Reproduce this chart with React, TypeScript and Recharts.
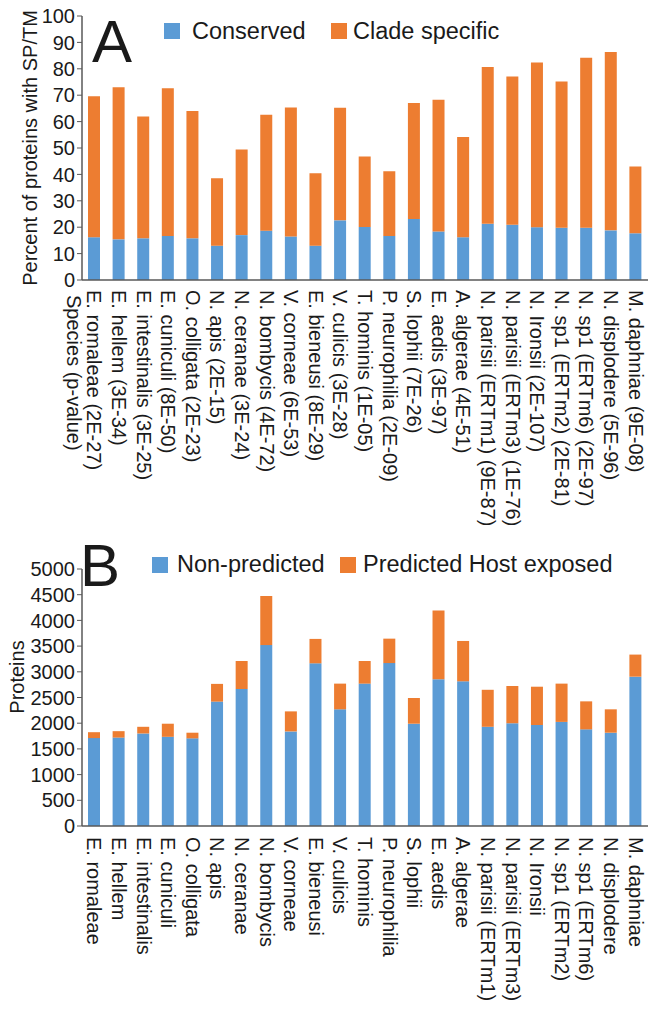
import { Bar, BarChart, XAxis, YAxis } from "recharts";

const BLUE = "#5B9BD5";
const ORANGE = "#ED7D31";
const AXIS = "#595959";
const INK = "#1a1a1a";
const FONT = "'Liberation Sans', Arial, sans-serif";

const species = [
  "E. romaleae", "E. hellem", "E. intestinalis", "E. cuniculi", "O. colligata",
  "N. apis", "N. ceranae", "N. bombycis", "V. corneae", "E. bieneusi",
  "V. culicis", "T. hominis", "P. neurophilia", "S. lophii", "E. aedis",
  "A. algerae", "N. parisii (ERTm1)", "N. parisii (ERTm3)", "N. Ironsii",
  "N. sp1 (ERTm2)", "N. sp1 (ERTm6)", "N. displodere", "M. daphniae",
];
const pValues = [
  "2E-27", "3E-34", "3E-25", "8E-50", "2E-23", "2E-15", "3E-24", "4E-72",
  "6E-53", "8E-29", "3E-28", "1E-05", "2E-09", "7E-26", "3E-97", "4E-51",
  "9E-87", "1E-76", "2E-107", "2E-81", "2E-97", "5E-96", "9E-08",
];

// panel A, percent of proteins with SP/TM
const conserved = [
  16.2, 15.4, 15.8, 16.7, 15.8, 13.0, 17.0, 18.7, 16.5, 13.0, 22.6, 20.1,
  16.7, 23.1, 18.4, 16.2, 21.3, 20.9, 20.0, 19.8, 19.8, 18.8, 17.7,
];
const cladeSpecific = [
  53.4, 57.6, 46.1, 55.9, 48.2, 25.5, 32.4, 43.9, 48.8, 27.4, 42.6, 26.7,
  24.5, 43.9, 49.9, 38.0, 59.4, 56.2, 62.4, 55.4, 64.4, 67.6, 25.3,
];

// panel B, protein counts
const nonPredicted = [
  1710, 1720, 1800, 1735, 1705, 2420, 2665, 3520, 1840, 3165, 2270, 2770,
  3170, 1990, 2855, 2815, 1930, 2000, 1965, 2025, 1880, 1815, 2905,
];
const hostExposed = [
  115, 125, 130, 255, 110, 345, 545, 955, 390, 475, 500, 440, 475, 500, 1340,
  785, 720, 725, 745, 745, 545, 455, 430,
];

const percentTicks = [0, 10, 20, 30, 40, 50, 60, 70, 80, 90, 100];
const proteinTicks = [0, 500, 1000, 1500, 2000, 2500, 3000, 3500, 4000, 4500, 5000];

const dataA = species.map((s, i) => ({
  name: `${s} (${pValues[i]})`,
  conserved: conserved[i],
  clade: cladeSpecific[i],
}));
const dataB = species.map((s, i) => ({
  name: s,
  nonPredicted: nonPredicted[i],
  exposed: hostExposed[i],
}));

const SpeciesTick = (props: any) => {
  const { x, y, payload } = props;
  return (
    <text
      x={x}
      y={y}
      dy="0.35em"
      transform={`rotate(90, ${x}, ${y})`}
      textAnchor="start"
      fontSize={20}
      fontFamily={FONT}
      fill={INK}
    >
      {payload.value}
    </text>
  );
};

const titleText = (text: string, x: number, y: number, deg: number, anchor: string) => () => (
  <text
    x={x}
    y={y}
    transform={`rotate(${deg}, ${x}, ${y})`}
    textAnchor={anchor}
    fontSize={20}
    fontFamily={FONT}
    fill={INK}
  >
    {text}
  </text>
);

const yTick = { fill: INK, fontSize: 20, fontFamily: FONT };

const Swatch = ({ left, top, color }: { left: number; top: number; color: string }) => (
  <div style={{ position: "absolute", left, top, width: 16, height: 16, background: color }} />
);

const Caption = ({ left, top, text, size }: { left: number; top: number; text: string; size: number }) => (
  <span
    style={{
      position: "absolute",
      left,
      top,
      fontSize: size,
      lineHeight: `${size}px`,
      fontFamily: FONT,
      color: INK,
      whiteSpace: "nowrap",
    }}
  >
    {text}
  </span>
);

export default function App() {
  return (
    <div style={{ position: "absolute", left: 0, top: 0, width: 649, height: 1010, background: "#fff" }}>
      <div style={{ position: "absolute", left: 0, top: 0 }}>
        <BarChart width={649} height={525} data={dataA} margin={{ top: 16, right: 1, bottom: 0, left: 0 }}>
          <XAxis
            dataKey="name"
            interval={0}
            height={245}
            tickLine={false}
            tickSize={0}
            tickMargin={10}
            axisLine={{ stroke: AXIS, strokeWidth: 1.5 }}
            tick={<SpeciesTick />}
            label={{ content: titleText("Species (p-value)", 67, 295, 90, "start") }}
          />
          <YAxis
            width={82}
            domain={[0, 100]}
            ticks={percentTicks}
            interval={0}
            tickSize={5}
            tick={yTick}
            axisLine={{ stroke: AXIS, strokeWidth: 1.5 }}
            tickLine={{ stroke: AXIS }}
            label={{ content: titleText("Percent of proteins with SP/TM", 37, 148, -90, "middle") }}
          />
          <Bar dataKey="conserved" stackId="a" fill={BLUE} barSize={12} isAnimationActive={false} />
          <Bar dataKey="clade" stackId="a" fill={ORANGE} barSize={12} isAnimationActive={false} />
        </BarChart>
      </div>

      <div style={{ position: "absolute", left: 0, top: 525 }}>
        <BarChart width={649} height={485} data={dataB} margin={{ top: 44, right: 1, bottom: 0, left: 0 }}>
          <XAxis
            dataKey="name"
            interval={0}
            height={184}
            tickLine={false}
            tickSize={0}
            tickMargin={11}
            axisLine={{ stroke: AXIS, strokeWidth: 1.5 }}
            tick={<SpeciesTick />}
          />
          <YAxis
            width={82}
            domain={[0, 5000]}
            ticks={proteinTicks}
            interval={0}
            tickSize={5}
            tick={yTick}
            axisLine={{ stroke: AXIS, strokeWidth: 1.5 }}
            tickLine={{ stroke: AXIS }}
            label={{ content: titleText("Proteins", 24, 152, -90, "middle") }}
          />
          <Bar dataKey="nonPredicted" stackId="b" fill={BLUE} barSize={12} isAnimationActive={false} />
          <Bar dataKey="exposed" stackId="b" fill={ORANGE} barSize={12} isAnimationActive={false} />
        </BarChart>
      </div>

      <Caption left={92} top={12} text="A" size={60} />
      <Swatch left={164} top={23} color={BLUE} />
      <Caption left={192} top={20} text="Conserved" size={23.5} />
      <Swatch left={331} top={23} color={ORANGE} />
      <Caption left={353} top={20} text="Clade specific" size={23.5} />

      <Caption left={80} top={536} text="B" size={60} />
      <Swatch left={152} top={557} color={BLUE} />
      <Caption left={177} top={553} text="Non-predicted" size={23.5} />
      <Swatch left={340} top={557} color={ORANGE} />
      <Caption left={363} top={553} text="Predicted Host exposed" size={23.5} />
    </div>
  );
}
